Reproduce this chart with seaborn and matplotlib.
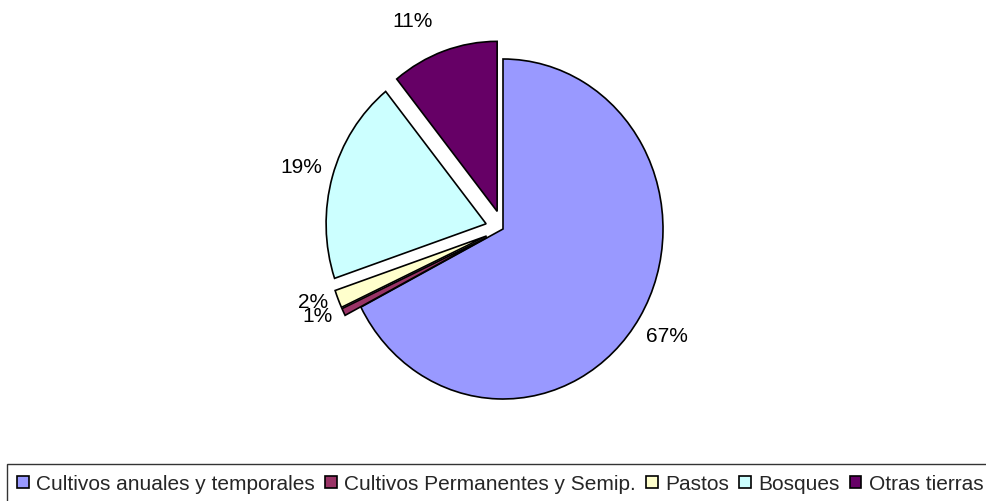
import matplotlib
matplotlib.use("Agg")
import matplotlib.pyplot as plt
import seaborn as sns
from matplotlib.patches import Patch

categories = ["Cultivos anuales y temporales", "Cultivos Permanentes y Semip.",
              "Pastos", "Bosques", "Otras tierras"]
values = [67.4, 0.7, 1.7, 19.4, 10.8]
colors = ["#9999FF", "#993366", "#FFFFCC", "#CCFFFF", "#660066"]
explode = [0, 0.11, 0.11, 0.11, 0.11]

sns.set_theme(style="white")
plt.rcParams["font.family"] = ["Liberation Sans", "DejaVu Sans"]

W, H = 986, 502
fig = plt.figure(figsize=(W / 100, H / 100), dpi=100)
fig.patch.set_facecolor("white")

# axes so that 1 data unit = 160 px horizontally, 170 px vertically, center at (503, 230)
cx, cy = 503, 230
ax_l, ax_r = cx - 480, cx + 480
ax_t, ax_b = cy - 221, cy + 221
ax = fig.add_axes([ax_l / W, 1 - ax_b / H, (ax_r - ax_l) / W, (ax_b - ax_t) / H])

wedges, texts, autotexts = ax.pie(
    values, colors=colors, explode=explode, startangle=90, counterclock=False,
    autopct="%1.0f%%", pctdistance=1.2,
    wedgeprops=dict(edgecolor="black", linewidth=1.2),
    textprops=dict(fontsize=15, color="black"),
)
# small label nudges (data units) to mimic the original label placement
nudges = [(0, 0), (0.02, 0.07), (0.03, 0.06), (0, 0), (-0.13, -0.01)]
for t, (dx, dy) in zip(autotexts, nudges):
    x, y = t.get_position()
    t.set_position((x + dx, y + dy))

ax.set_aspect("auto")
ax.set_xlim(-3, 3)
ax.set_ylim(-1.3, 1.3)
ax.axis("off")

handles = [Patch(facecolor=c, edgecolor="black", linewidth=1.2) for c in colors]
leg = fig.legend(handles, categories, loc="upper left",
                 bbox_to_anchor=(7 / W, 1 - 465 / H), ncol=5, fontsize=15,
                 frameon=True, fancybox=False, handlelength=0.55, handleheight=0.55,
                 handletextpad=0.35, columnspacing=0.5, borderpad=0.5,
                 borderaxespad=0)
leg.get_frame().set_edgecolor("black")
leg.get_frame().set_linewidth(1.0)

fig.savefig("out.png", dpi=100, facecolor="white")
